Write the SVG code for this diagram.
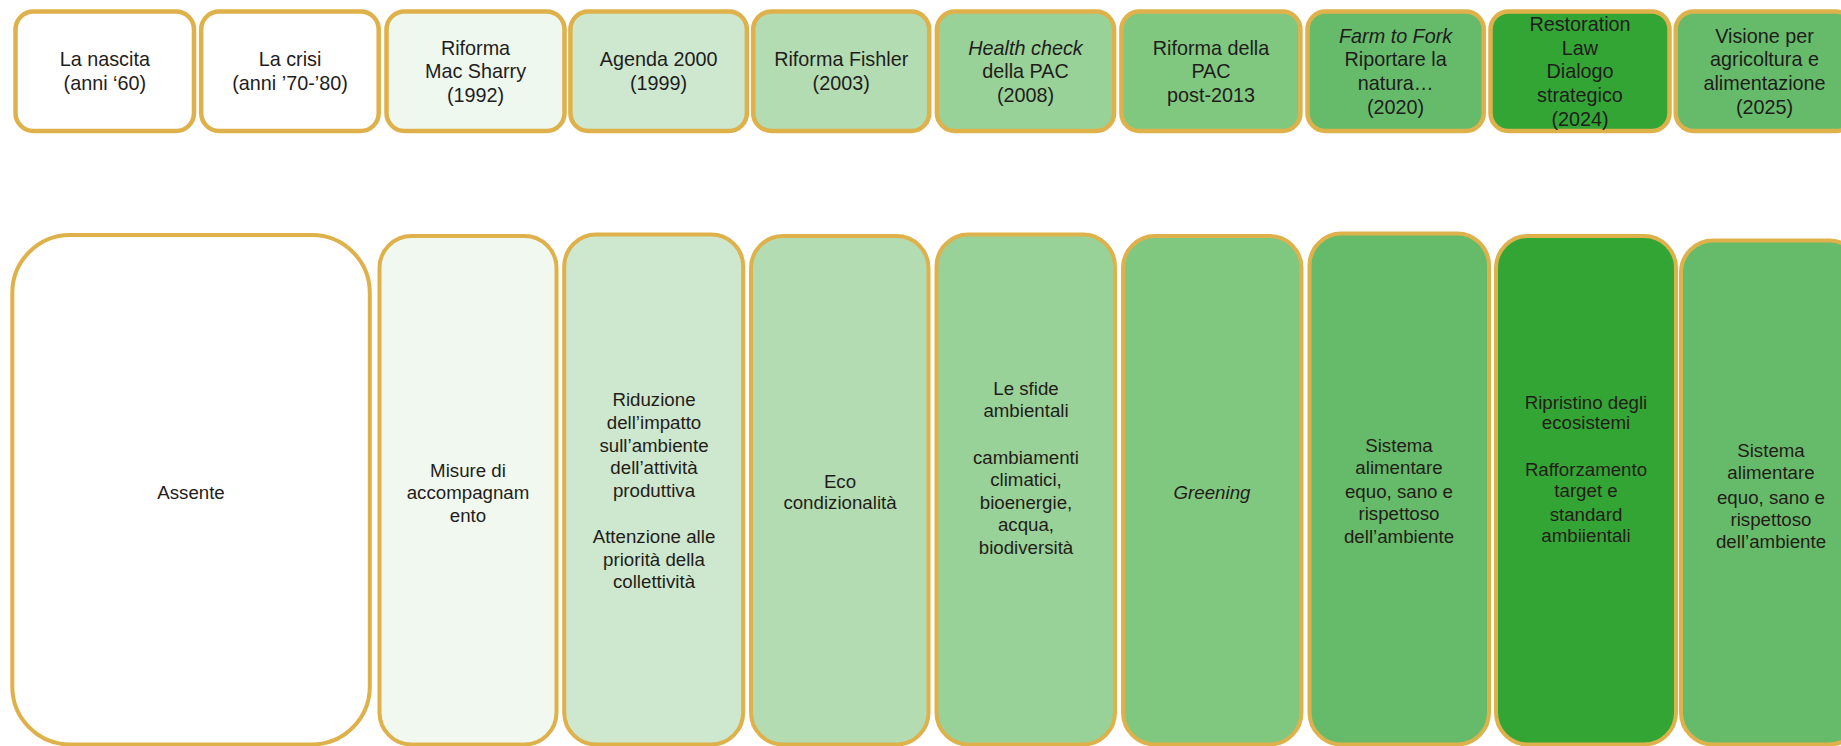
<svg xmlns="http://www.w3.org/2000/svg" width="1841" height="746" viewBox="0 0 1841 746">
<style>
.b{stroke:#dfb14b;stroke-width:4.5}
.bb{stroke:#dfb14b;stroke-width:4}
.t{font-family:"Liberation Sans",Arial,sans-serif;font-size:19.8px;fill:#1f1c1c;text-anchor:middle}
.s{font-family:"Liberation Sans",Arial,sans-serif;font-size:18.7px;fill:#241c18;text-anchor:middle}
.i{font-style:italic}
</style>
<rect width="1841" height="746" fill="#ffffff"/>
<g id="connectors"/>
<g id="top-1"><rect class="b" x="15.5" y="11.5" width="178.5" height="119.5" rx="18" fill="#ffffff"/>
<text class="t" x="104.8"><tspan x="104.8" y="66.4">La nascita</tspan><tspan x="104.8" y="90.2">(anni ‘60)</tspan></text></g>
<g id="top-2"><rect class="b" x="201.2" y="11.5" width="177.5" height="119.5" rx="18" fill="#ffffff"/>
<text class="t"><tspan x="290" y="66.4">La crisi</tspan><tspan x="290" y="90.2">(anni ’70-’80)</tspan></text></g>
<g id="top-3"><rect class="b" x="386.5" y="11.5" width="178" height="119.5" rx="18" fill="#eff8ef"/>
<text class="t"><tspan x="475.5" y="54.5">Riforma</tspan><tspan x="475.5" y="78.3">Mac Sharry</tspan><tspan x="475.5" y="102.1">(1992)</tspan></text></g>
<g id="top-4"><rect class="b" x="570.4" y="11.5" width="176.5" height="119.5" rx="18" fill="#cde8cf"/>
<text class="t"><tspan x="658.6" y="66.4">Agenda 2000</tspan><tspan x="658.6" y="90.2">(1999)</tspan></text></g>
<g id="top-5"><rect class="b" x="753.2" y="11.5" width="176" height="119.5" rx="18" fill="#b3dcb3"/>
<text class="t"><tspan x="841.2" y="66.4">Riforma Fishler</tspan><tspan x="841.2" y="90.2">(2003)</tspan></text></g>
<g id="top-6"><rect class="b" x="936.9" y="11.5" width="177.2" height="119.5" rx="18" fill="#99d298"/>
<text class="t"><tspan class="i" x="1025.5" y="54.5">Health check</tspan><tspan x="1025.5" y="78.3">della PAC</tspan><tspan x="1025.5" y="102.1">(2008)</tspan></text></g>
<g id="top-7"><rect class="b" x="1121.4" y="11.5" width="179" height="119.5" rx="18" fill="#80c880"/>
<text class="t"><tspan x="1211" y="54.5">Riforma della</tspan><tspan x="1211" y="78.3">PAC</tspan><tspan x="1211" y="102.1">post-2013</tspan></text></g>
<g id="top-8"><rect class="b" x="1307.5" y="11.5" width="176.3" height="119.5" rx="18" fill="#66bb6a"/>
<text class="t"><tspan class="i" x="1395.6" y="42.6">Farm to Fork</tspan><tspan x="1395.6" y="66.4">Riportare la</tspan><tspan x="1395.6" y="90.2">natura…</tspan><tspan x="1395.6" y="114">(2020)</tspan></text></g>
<g id="top-9"><rect class="b" x="1490.5" y="11.5" width="179" height="119.5" rx="18" fill="#33a535"/>
<text class="t"><tspan x="1580" y="30.7">Restoration</tspan><tspan x="1580" y="54.5">Law</tspan><tspan x="1580" y="78.3">Dialogo</tspan><tspan x="1580" y="102.1">strategico</tspan><tspan x="1580" y="125.9">(2024)</tspan></text></g>
<g id="top-10"><rect class="b" x="1675.7" y="11.5" width="178" height="119.5" rx="18" fill="#66bb6a"/>
<text class="t"><tspan x="1764.5" y="42.6">Visione per</tspan><tspan x="1764.5" y="66.4">agricoltura e</tspan><tspan x="1764.5" y="90.2">alimentazione</tspan><tspan x="1764.5" y="114">(2025)</tspan></text></g>

<g id="bottom-1"><rect class="bb" x="12.3" y="235" width="357.5" height="509.5" rx="58" fill="#ffffff"/>
<text class="s"><tspan x="191" y="499">Assente</tspan></text></g>
<g id="bottom-2"><rect class="bb" x="379.5" y="236" width="177" height="508.5" rx="32" fill="#f0f8f0"/>
<text class="s"><tspan x="468" y="476.5">Misure di</tspan><tspan x="468" y="499">accompagnam</tspan><tspan x="468" y="521.5">ento</tspan></text></g>
<g id="bottom-3"><rect class="bb" x="564.2" y="234.5" width="179" height="510" rx="32" fill="#cde8cf"/>
<text class="s"><tspan x="654" y="406">Riduzione</tspan><tspan x="654" y="428.8">dell’impatto</tspan><tspan x="654" y="451.6">sull’ambiente</tspan><tspan x="654" y="474.4">dell’attività</tspan><tspan x="654" y="497.2">produttiva</tspan><tspan x="654" y="542.8">Attenzione alle</tspan><tspan x="654" y="565.6">priorità della</tspan><tspan x="654" y="588.4">collettività</tspan></text></g>
<g id="bottom-4"><rect class="bb" x="751" y="236" width="177.5" height="508.5" rx="32" fill="#b3dcb3"/>
<text class="s"><tspan x="840" y="487.5">Eco</tspan><tspan x="840" y="509">condizionalità</tspan></text></g>
<g id="bottom-5"><rect class="bb" x="936.5" y="234.5" width="178.5" height="510" rx="32" fill="#99d298"/>
<text class="s"><tspan x="1026" y="394.5">Le sfide</tspan><tspan x="1026" y="417">ambientali</tspan><tspan x="1026" y="464">cambiamenti</tspan><tspan x="1026" y="486">climatici,</tspan><tspan x="1026" y="508.5">bioenergie,</tspan><tspan x="1026" y="531">acqua,</tspan><tspan x="1026" y="554">biodiversità</tspan></text></g>
<g id="bottom-6"><rect class="bb" x="1123" y="236" width="178.5" height="508.5" rx="32" fill="#80c880"/>
<text class="s i"><tspan x="1212" y="499">Greening</tspan></text></g>
<g id="bottom-7"><rect class="bb" x="1309.5" y="233.5" width="179.5" height="511" rx="32" fill="#66bb6a"/>
<text class="s"><tspan x="1399" y="452">Sistema</tspan><tspan x="1399" y="474">alimentare</tspan><tspan x="1399" y="497.5">equo, sano e</tspan><tspan x="1399" y="520">rispettoso</tspan><tspan x="1399" y="542.5">dell’ambiente</tspan></text></g>
<g id="bottom-8"><rect class="bb" x="1496" y="236" width="180" height="508.5" rx="32" fill="#33a535"/>
<text class="s"><tspan x="1586" y="408.5">Ripristino degli</tspan><tspan x="1586" y="429">ecosistemi</tspan><tspan x="1586" y="476">Rafforzamento</tspan><tspan x="1586" y="497">target e</tspan><tspan x="1586" y="520.5">standard</tspan><tspan x="1586" y="542">ambiientali</tspan></text></g>
<g id="bottom-9"><rect class="bb" x="1681" y="240.5" width="180" height="504" rx="32" fill="#66bb6a"/>
<text class="s"><tspan x="1771" y="457">Sistema</tspan><tspan x="1771" y="479">alimentare</tspan><tspan x="1771" y="503.5">equo, sano e</tspan><tspan x="1771" y="525.5">rispettoso</tspan><tspan x="1771" y="548">dell’ambiente</tspan></text></g>
</svg>
